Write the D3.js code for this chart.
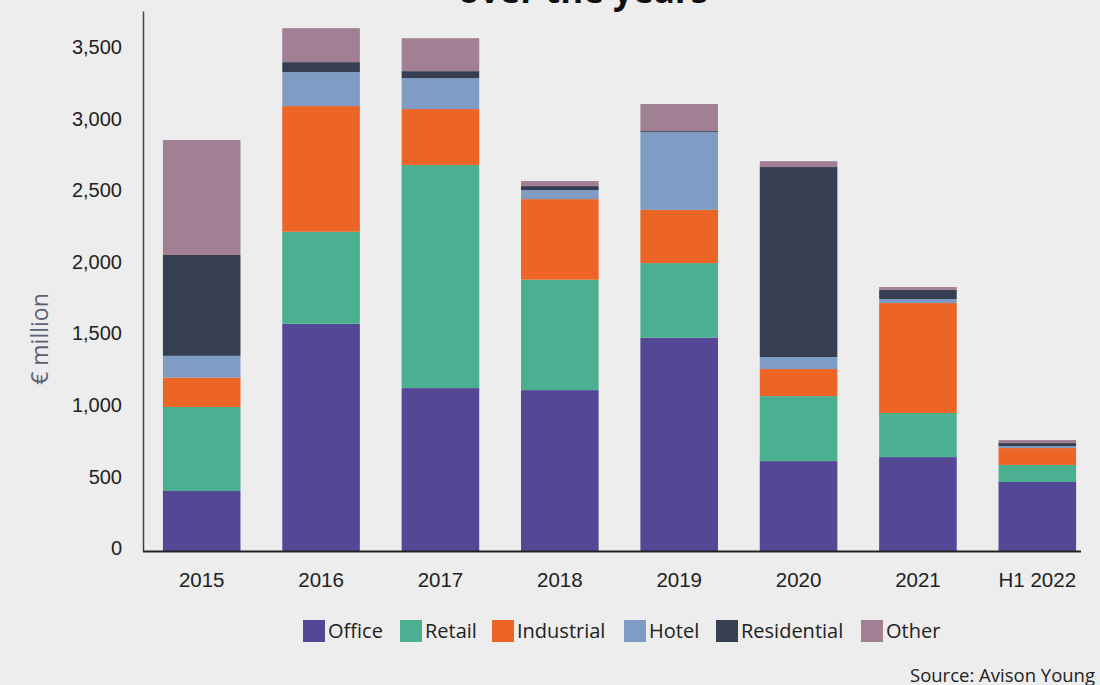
<!DOCTYPE html>
<html>
<head>
<meta charset="utf-8">
<script src="https://cdn.jsdelivr.net/npm/d3@7"></script>
<style>
  body { margin: 0; background: #ededed; }
  svg { display: block; font-family: "Open Sans", sans-serif; }
</style>
</head>
<body>
<div id="chart"></div>
<script>
// investment volume by sector, € million
var years = ["2015", "2016", "2017", "2018", "2019", "2020", "2021", "H1 2022"];
var sectors = ["Office", "Retail", "Industrial", "Hotel", "Residential", "Other"];
var colors = ["#544896", "#4baf92", "#ec6527", "#7f9cc4", "#363f52", "#a18093"];

var office      = [419, 1587, 1138, 1124, 1490, 628, 656, 482];
var retail      = [587, 643, 1558, 771, 521, 454, 308, 119];
var industrial  = [205, 878, 391, 563, 372, 189, 768, 118];
var hotel       = [152, 237, 216, 63, 543, 84, 28, 14];
var residential = [705, 70, 49, 28, 7, 1327, 63, 21];
var other       = [803, 237, 230, 35, 189, 41, 21, 21];

var yTicks = [0, 500, 1000, 1500, 2000, 2500, 3000, 3500];

var W = 1100, H = 685;
var series = [office, retail, industrial, hotel, residential, other];

// rows for the stack
var rows = years.map(function (yr, i) {
    var r = {year: yr};
    sectors.forEach(function (s, k) { r[s] = series[k][i]; });
    return r;
});

var stacked = d3.stack().keys(sectors)(rows);

var x = d3.scaleBand()
        .domain(years)
        .range([142, 1097])
        .paddingInner(0.35)
        .paddingOuter(0.175);

var y = d3.scaleLinear()
        .domain([0, 3772])
        .range([551, 11]);

var color = d3.scaleOrdinal().domain(sectors).range(colors);

var svg = d3.select("#chart").append("svg")
        .attr("width", W)
        .attr("height", H);

svg.append("rect").attr("width", W).attr("height", H).attr("fill", "#ededed");

// title, first line is off the top of the picture
svg.append("text")
        .attr("x", 583)
        .attr("y", 3)
        .attr("text-anchor", "middle")
        .style("font-size", "35px")
        .style("font-weight", "bold")
        .attr("fill", "#111")
        .text("over the years");

// bars
svg.selectAll(".layer")
        .data(stacked)
        .enter().append("g")
        .attr("class", "layer")
        .attr("fill", function (d) { return color(d.key); })
        .selectAll("rect")
        .data(function (d) { return d; })
        .enter().append("rect")
        .attr("x", function (d) { return x(d.data.year); })
        .attr("width", x.bandwidth())
        .attr("y", function (d) { return y(d[1]); })
        .attr("height", function (d) { return y(d[0]) - y(d[1]); });

// y axis
var yAxis = svg.append("g")
        .attr("transform", "translate(143,0)")
        .call(d3.axisLeft(y).tickValues(yTicks).tickSize(0).tickPadding(21)
                .tickFormat(d3.format(",")));
yAxis.select(".domain").attr("stroke", "#444").attr("stroke-width", 1.5);
yAxis.selectAll("text")
        .attr("dy", "0.18em")
        .style("font-size", "20px")
        .attr("fill", "#222");

// x axis
var xAxis = svg.append("g")
        .attr("transform", "translate(0,551)")
        .call(d3.axisBottom(x).tickSize(0).tickPadding(21));
xAxis.select(".domain").remove();
xAxis.selectAll("text")
        .style("font-size", "20.5px")
        .attr("fill", "#222");
svg.append("line")
        .attr("x1", 143).attr("x2", 1081)
        .attr("y1", 551.5).attr("y2", 551.5)
        .attr("stroke", "#222")
        .attr("stroke-width", 2);

// y label
svg.append("text")
        .attr("transform", "translate(48,339) rotate(-90)")
        .attr("text-anchor", "middle")
        .style("font-size", "23px")
        .attr("fill", "#5b6275")
        .text("€ million");

// legend
var legendX = [303, 400, 492, 624, 716, 861];
var legend = svg.selectAll(".legend")
        .data(sectors)
        .enter().append("g")
        .attr("class", "legend")
        .attr("transform", function (d, i) { return "translate(" + legendX[i] + ",620)"; });
legend.append("rect")
        .attr("width", 22)
        .attr("height", 22)
        .attr("fill", function (d) { return color(d); });
legend.append("text")
        .attr("x", 25)
        .attr("y", 18.3)
        .style("font-size", "20px")
        .attr("fill", "#222")
        .text(function (d) { return d; });

// source
svg.append("text")
        .attr("x", 1095)
        .attr("y", 681.5)
        .attr("text-anchor", "end")
        .style("font-size", "18.5px")
        .attr("fill", "#222")
        .text("Source: Avison Young");
</script>
</body>
</html>
